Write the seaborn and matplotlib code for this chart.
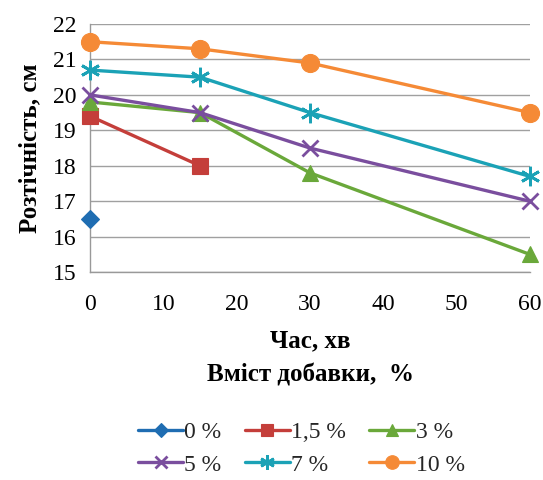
import matplotlib
matplotlib.use("Agg")
import matplotlib.pyplot as plt
import seaborn as sns
import pandas as pd

series_names = ["0 %", "1,5 %", "3 %", "5 %", "7 %", "10 %"]
time_0 = [0]
val_0 = [16.5]
time_15 = [0, 15]
val_15 = [19.4, 18.0]
time_3 = [0, 15, 30, 60]
val_3 = [19.8, 19.5, 17.8, 15.5]
time_5 = [0, 15, 30, 60]
val_5 = [20.0, 19.5, 18.5, 17.0]
time_7 = [0, 15, 30, 60]
val_7 = [20.7, 20.5, 19.5, 17.7]
time_10 = [0, 15, 30, 60]
val_10 = [21.5, 21.3, 20.9, 19.5]

x_ticks = [0, 10, 20, 30, 40, 50, 60]
y_ticks = [15, 16, 17, 18, 19, 20, 21, 22]

times = [time_0, time_15, time_3, time_5, time_7, time_10]
vals = [val_0, val_15, val_3, val_5, val_7, val_10]
rows = []
for name, t, v in zip(series_names, times, vals):
    for ti, vi in zip(t, v):
        rows.append({"t": ti, "v": vi, "s": name})
df = pd.DataFrame(rows)

colors = ["#1F6DB2", "#C43E3A", "#6AA83A", "#7A4E9E", "#1BA2B6", "#F58A36"]
markers = ["D", "s", "^", "x", (6, 2, 0), "o"]
sizes = [9, 12, 11, 12, 14, 13]

sns.set_theme(style="white")
plt.rcParams["font.family"] = ["Liberation Serif", "DejaVu Serif"]

fig = plt.figure(figsize=(5.43, 4.8), dpi=100)
ax = fig.add_axes([0.166, 0.433, 0.81, 0.517])

for name, c, m, s in zip(series_names, colors, markers, sizes):
    sub = df[df["s"] == name]
    sns.lineplot(data=sub, x="t", y="v", ax=ax, color=c, marker=m,
                 markersize=s, linewidth=2.4, estimator=None, label=name,
                 markeredgecolor=c, markeredgewidth=2.0 if m in ("x", (6, 2, 0)) else 0.8,
                 sort=False, clip_on=False, zorder=3)

ax.set_xlim(0, 60)
ax.set_ylim(15, 22)
ax.set_xticks(x_ticks)
ax.set_yticks(y_ticks)
ax.tick_params(axis="both", labelsize=17, colors="black")
ax.tick_params(axis="x", direction="in", length=5, color="#888888", pad=16)
ax.tick_params(axis="y", length=0, pad=10)
ax.yaxis.grid(True, color="#A0A0A0", linewidth=1)
ax.xaxis.grid(False)
ax.set_axisbelow(True)
for sp in ["top", "right"]:
    ax.spines[sp].set_visible(False)
for sp in ["left", "bottom"]:
    ax.spines[sp].set_color("#999999")
    ax.spines[sp].set_linewidth(1)

ax.set_xlabel("Час, хв\nВміст добавки,  %", fontsize=18, fontweight="bold",
              labelpad=10, linespacing=1.65, color="black")
ax.set_ylabel("Розтічність, см", fontsize=18, fontweight="bold", labelpad=8,
              color="black")

handles, labels = ax.get_legend_handles_labels()
ax.get_legend().remove()
order = [0, 3, 1, 4, 2, 5]
fig.legend([handles[i] for i in order], [labels[i] for i in order],
           loc="center", bbox_to_anchor=(0.555, 0.065),
           ncol=3, frameon=False, fontsize=17, handlelength=1.9,
           columnspacing=1.0, handletextpad=0.05, labelspacing=0.45,
           markerscale=0.75)

fig.savefig("out.png", dpi=100)
